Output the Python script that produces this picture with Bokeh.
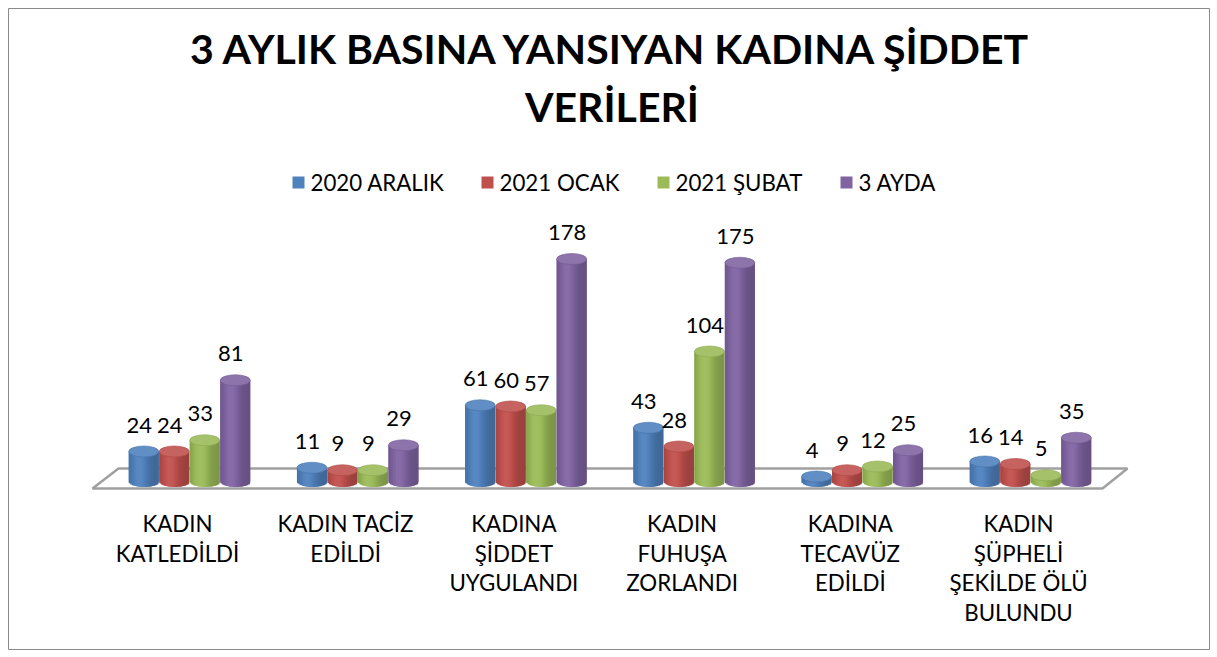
import math
from bokeh.plotting import figure
from bokeh.models import Range1d, Label
from bokeh.core.properties import value
from bokeh.embed import file_html
from bokeh.resources import INLINE

# ---------------- data ----------------
categories = [
    "KADIN\nKATLEDİLDİ",
    "KADIN TACİZ\nEDİLDİ",
    "KADINA\nŞİDDET\nUYGULANDI",
    "KADIN\nFUHUŞA\nZORLANDI",
    "KADINA\nTECAVÜZ\nEDİLDİ",
    "KADIN\nŞÜPHELİ\nŞEKİLDE ÖLÜ\nBULUNDU",
]
series_names = ["2020 ARALIK", "2021 OCAK", "2021 ŞUBAT", "3 AYDA"]
aralik_2020 = [24, 11, 61, 43, 4, 16]
ocak_2021 = [24, 9, 60, 28, 9, 14]
subat_2021 = [33, 9, 57, 104, 12, 5]
uc_ayda = [81, 29, 178, 175, 25, 35]
series_values = [aralik_2020, ocak_2021, subat_2021, uc_ayda]
title_lines = ["3 AYLIK BASINA YANSIYAN KADINA ŞİDDET", "VERİLERİ"]

# ---------------- style / layout ----------------
colors = ["#4F81BD", "#C0504D", "#9BBB59", "#8064A2"]
FONT = "Lato"
MB = 8                      # border around frame
W, H = 1201, 641            # frame size
GROUP_PX = 168.2            # pixels per category
PX_PER_UNIT = 1.25          # pixels per value unit
x0 = -181.0 / GROUP_PX
y0 = -168.0 / PX_PER_UNIT
bar_w = 30.0 / GROUP_PX
bar_step = 30.5 / GROUP_PX
ell_h = 11.0 / PX_PER_UNIT
legend_sq_px = [290, 479, 655, 838]     # legend square centres (frame px)
legend_y_px = 467                       # legend centre from frame bottom


def px_x(px):
    return px / GROUP_PX


def px_y(px):
    return px / PX_PER_UNIT


def shade(hexc, m):
    r, g, b = int(hexc[1:3], 16), int(hexc[3:5], 16), int(hexc[5:7], 16)
    if m >= 1:
        f = m - 1
        r, g, b = [c + (255 - c) * f for c in (r, g, b)]
    else:
        r, g, b = [c * m for c in (r, g, b)]
    return "#%02x%02x%02x" % tuple(max(0, min(255, int(round(c)))) for c in (r, g, b))


p = figure(width=W + 2 * MB, height=H + 2 * MB, output_backend="svg", toolbar_location=None,
           x_range=Range1d(x0, x0 + W / GROUP_PX),
           y_range=Range1d(y0, y0 + H / PX_PER_UNIT),
           x_axis_location=None, y_axis_location=None,
           min_border=MB, min_border_left=MB, min_border_right=MB,
           min_border_top=MB, min_border_bottom=MB)
p.xgrid.visible = False
p.ygrid.visible = False
p.outline_line_color = "#8A8A8A"
p.outline_line_width = 1
p.background_fill_color = "white"
p.border_fill_color = "white"

n = len(categories)
# floor (parallelogram)
fl, fr = px_x(-97), px_x(913)
bl, br = px_x(-71), px_x(938)
p.patch([fl, fr, br, bl], [px_y(-7), px_y(-7), px_y(13), px_y(13)],
        fill_color="white", line_color="#A0A0A0", line_width=2.5)

# cylinders
N = 20
for si, vals in enumerate(series_values):
    off = (si - 1.5) * bar_step
    cxs = [gi + off for gi in range(n)]
    p.quad(left=[c - bar_w / 2 for c in cxs], right=[c + bar_w / 2 for c in cxs],
           top=vals, bottom=0, fill_color=colors[si], line_color=None)
    L, R, T, B, C = [], [], [], [], []
    s = bar_w / N
    for gi, v in enumerate(vals):
        cx = cxs[gi]
        for k in range(N):
            u = -1 + (2 * k + 1) / N
            m = 0.80 + 0.26 * math.exp(-((u + 0.3) / 0.6) ** 2)
            left = cx - bar_w / 2 + k * s
            right = left + s * 1.7 if k < N - 1 else cx + bar_w / 2
            L.append(left)
            R.append(right)
            T.append(v)
            B.append(-math.sqrt(max(0.0, 1 - u * u)) * ell_h / 2)
            C.append(shade(colors[si], m))
    p.quad(left=L, right=R, top=T, bottom=B, fill_color=C, line_color=None)
    p.ellipse(x=cxs, y=vals, width=bar_w, height=ell_h,
              fill_color=shade(colors[si], 1.10), line_color=shade(colors[si], 0.9),
              line_width=0.6)
    # value labels
    p.text(x=[c + px_x(-4.5) for c in cxs], y=[v + px_y(26.5) for v in vals],
           text=[str(v) for v in vals], text_align="center", text_baseline="middle",
           text_font=value(FONT), text_font_size="22px", text_color="black")

# category labels
lx, ly, lt = [], [], []
for gi, cat in enumerate(categories):
    for li, line in enumerate(cat.split("\n")):
        lx.append(gi + px_x(-12))
        ly.append(px_y(-42 - 29.7 * li))
        lt.append(line)
p.text(x=lx, y=ly, text=lt, text_align="center", text_baseline="middle",
       text_font=value(FONT), text_font_size="22.3px", text_color="black")

# title
for i, t in enumerate(title_lines):
    p.add_layout(Label(x=W / 2 + 3, y=601 - 58 * i, x_units="screen", y_units="screen",
                       text=t, text_align="center", text_baseline="middle",
                       text_font=FONT, text_font_size="41px", text_font_style="bold",
                       text_color="black"))

# legend (squares + labels)
leg_y_data = y0 + legend_y_px / PX_PER_UNIT
p.rect(x=[x0 + px / GROUP_PX for px in legend_sq_px], y=[leg_y_data] * 4,
       width=12, height=12, width_units="screen", height_units="screen",
       fill_color=colors, line_color=None)
for si, name in enumerate(series_names):
    p.add_layout(Label(x=legend_sq_px[si] + 12, y=legend_y_px, x_units="screen", y_units="screen",
                       text=name, text_align="left", text_baseline="middle",
                       text_font=FONT, text_font_size="22.3px", text_color="black"))

open("out.html", "w").write(file_html(p, INLINE))
